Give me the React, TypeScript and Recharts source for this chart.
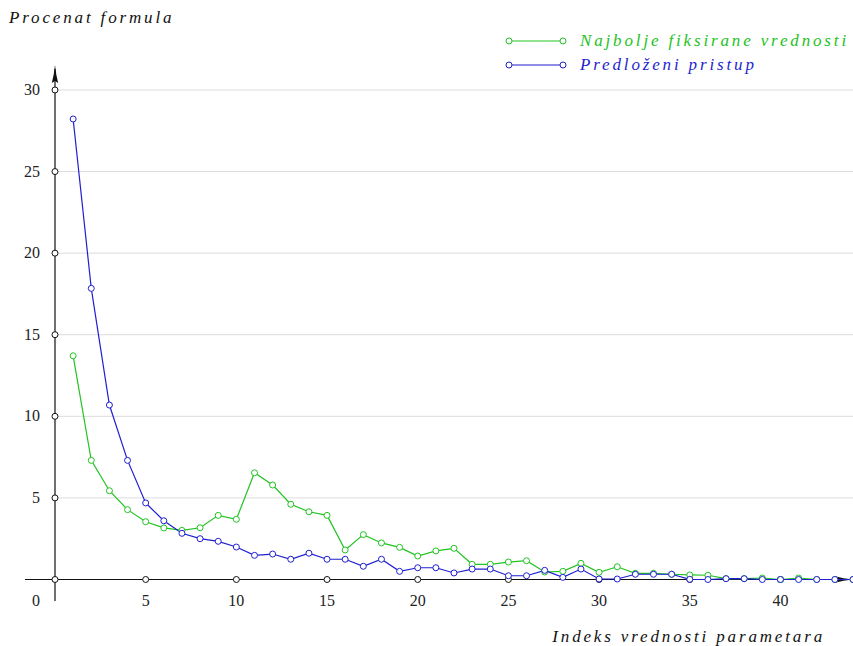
import React from "react";
import {
  Legend,
  Line,
  LineChart,
  ReferenceDot,
  ReferenceLine,
  XAxis,
  YAxis,
} from "recharts";

const indices = [
  1, 2, 3, 4, 5, 6, 7, 8, 9, 10, 11, 12, 13, 14, 15, 16, 17, 18, 19, 20, 21, 22,
  23, 24, 25, 26, 27, 28, 29, 30, 31, 32, 33, 34, 35, 36, 37, 38, 39, 40, 41, 42,
  43, 44,
];

const fixedValues = [
  13.71, 7.3, 5.44, 4.28, 3.54, 3.16, 3.01, 3.17, 3.93, 3.69, 6.54, 5.79, 4.61,
  4.15, 3.93, 1.81, 2.75, 2.24, 1.97, 1.44, 1.75, 1.91, 0.93, 0.93, 1.07, 1.15,
  0.46, 0.5, 0.99, 0.44, 0.78, 0.38, 0.38, 0.32, 0.28, 0.26, 0.05, 0.05, 0.09, 0,
  0.09, 0, 0, 0,
];

const proposedValues = [
  28.22, 17.84, 10.69, 7.3, 4.69, 3.6, 2.83, 2.5, 2.34, 1.99, 1.48, 1.56, 1.24,
  1.61, 1.24, 1.24, 0.81, 1.24, 0.5, 0.72, 0.72, 0.4, 0.64, 0.64, 0.23, 0.23,
  0.56, 0.13, 0.64, 0.03, 0.03, 0.32, 0.32, 0.32, 0.01, 0, 0.05, 0.05, 0, 0, 0,
  0, 0, 0,
];

const xTicks = [0, 5, 10, 15, 20, 25, 30, 35, 40];
const yTicks = [5, 10, 15, 20, 25, 30];

const seriesNames = ["Najbolje fiksirane vrednosti", "Predloženi pristup"];

const GREEN = "#22c322";
const BLUE = "#1f1fd0";
const SERIF = "'Liberation Serif', 'DejaVu Serif', serif";

const data = indices.map((x, i) => ({
  x,
  fixed: fixedValues[i],
  proposed: proposedValues[i],
}));

const tickStyle: React.CSSProperties = { fontFamily: SERIF, fontSize: 16 };

const XTick = ({ x, y, payload }: any) => (
  <text
    x={payload.value === 0 ? x - 19 : x}
    y={y + 5}
    textAnchor="middle"
    style={tickStyle}
    fill="#222"
  >
    {payload.value}
  </text>
);

const YTick = ({ x, y, payload }: any) => (
  <text x={x + 15} y={y + 5} textAnchor="end" style={tickStyle} fill="#222">
    {payload.value}
  </text>
);

// axis line with a slim latex-like arrow head at the far end
const ArrowX = (props: any) => {
  const { x1, x2, y1 } = props;
  const tip = Math.max(x1, x2);
  return (
    <g>
      <line x1={Math.min(x1, x2)} y1={y1} x2={tip - 4} y2={y1} stroke="#111" strokeWidth={1.2} />
      <path
        d={`M${tip},${y1} Q${tip - 10},${y1 - 1} ${tip - 18},${y1 - 3.2} L${tip - 16},${y1} L${tip - 18},${y1 + 3.2} Q${tip - 10},${y1 + 1} ${tip},${y1} Z`}
        fill="#111"
      />
    </g>
  );
};

const ArrowY = (props: any) => {
  const { x1, y1, y2 } = props;
  const tip = Math.min(y1, y2);
  return (
    <g>
      <line x1={x1} y1={Math.max(y1, y2)} x2={x1} y2={tip + 4} stroke="#111" strokeWidth={1.2} />
      <path
        d={`M${x1},${tip} Q${x1 - 1},${tip + 10} ${x1 - 3.2},${tip + 18} L${x1},${tip + 16} L${x1 + 3.2},${tip + 18} Q${x1 + 1},${tip + 10} ${x1},${tip} Z`}
        fill="#111"
      />
    </g>
  );
};

const labelStyle: React.CSSProperties = {
  fontFamily: SERIF,
  fontStyle: "italic",
  fontSize: 17,
  letterSpacing: 2.85,
};

const LegendContent = () => (
  <div style={{ display: "flex", flexDirection: "column" }}>
    {[GREEN, BLUE].map((c, i) => (
      <div
        key={c}
        style={{ display: "flex", alignItems: "center", height: 24 }}
      >
        <svg width={62} height={10}>
          <line x1={4} y1={5} x2={58} y2={5} stroke={c} strokeWidth={1.2} />
          <circle cx={4} cy={5} r={3} fill="#fff" stroke={c} strokeWidth={1} />
          <circle cx={58} cy={5} r={3} fill="#fff" stroke={c} strokeWidth={1} />
        </svg>
        <span style={{ ...labelStyle, color: c, marginLeft: 13 }}>
          {seriesNames[i]}
        </span>
      </div>
    ))}
  </div>
);

export default function App() {
  return (
    <div style={{ position: "absolute", left: 0, top: 0, background: "#fff" }}>
      <LineChart
        width={853}
        height={646}
        data={data}
        margin={{ top: 65, right: 0, bottom: 15, left: 0 }}
      >
        <XAxis
          type="number"
          dataKey="x"
          domain={[-1.654, 44]}
          ticks={xTicks}
          allowDataOverflow
          axisLine={false}
          tickLine={false}
          tickSize={0}
          tickMargin={0}
          height={30}
          tick={<XTick />}
          interval={0}
          label={{
            content: () => (
              <text x={825} y={642} textAnchor="end" style={labelStyle} fill="#111">
                Indeks vrednosti parametara
              </text>
            ),
          }}
        />
        <YAxis
          type="number"
          domain={[-1.318, 31.53]}
          ticks={yTicks}
          allowDataOverflow
          axisLine={false}
          tickLine={false}
          tickSize={0}
          tickMargin={0}
          width={25}
          tick={<YTick />}
          interval={0}
          label={{
            content: () => (
              <text x={9} y={23} textAnchor="start" style={labelStyle} fill="#111">
                Procenat formula
              </text>
            ),
          }}
        />
        {yTicks.map((t) => (
          <ReferenceLine
            key={`g${t}`}
            segment={[
              { x: 0, y: t },
              { x: 44, y: t },
            ]}
            stroke="#dcdcdc"
            strokeWidth={1}
          />
        ))}
        <ReferenceLine y={0} shape={<ArrowX />} />
        <ReferenceLine x={0} shape={<ArrowY />} />
        <Line
          type="linear"
          dataKey="fixed"
          name={seriesNames[0]}
          stroke={GREEN}
          strokeWidth={1.2}
          dot={{ r: 3, fill: "#fff", stroke: GREEN, strokeWidth: 1 }}
          activeDot={false}
          isAnimationActive={false}
        />
        <Line
          type="linear"
          dataKey="proposed"
          name={seriesNames[1]}
          stroke={BLUE}
          strokeWidth={1.2}
          dot={{ r: 3, fill: "#fff", stroke: BLUE, strokeWidth: 1 }}
          activeDot={false}
          isAnimationActive={false}
        />
        <ReferenceDot x={0} y={0} r={3} fill="#fff" stroke="#111" strokeWidth={1} />
        {xTicks
          .filter((t) => t > 0)
          .map((t) => (
            <ReferenceDot key={`xd${t}`} x={t} y={0} r={3} fill="#fff" stroke="#111" strokeWidth={1} />
          ))}
        {yTicks.map((t) => (
          <ReferenceDot key={`yd${t}`} x={0} y={t} r={3} fill="#fff" stroke="#111" strokeWidth={1} />
        ))}
        <Legend
          layout="vertical"
          align="center"
          verticalAlign="middle"
          content={<LegendContent />}
          wrapperStyle={{ top: 29, left: 505, width: 348, height: 48 }}
        />
      </LineChart>
    </div>
  );
}
